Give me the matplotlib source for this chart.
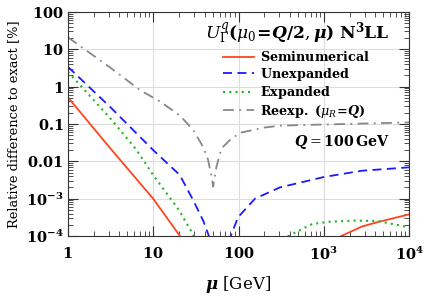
import matplotlib
matplotlib.use('Agg')
import matplotlib.pyplot as plt
from matplotlib.ticker import FixedLocator, LogLocator, NullFormatter

plt.rcParams['mathtext.fontset'] = 'dejavuserif'
plt.rcParams['font.family'] = 'DejaVu Serif'

# ==[0] Data (relative difference in %)
mu_semi = [1, 3.16, 10, 20.6, 30, 100, 1000, 1600, 2800, 4400, 10000]
d_semi = [0.52, 0.022, 1.0e-3, 1.0e-4, 2e-5, 1e-6, 3e-5, 1.0e-4, 1.8e-4, 2.4e-4, 3.8e-4]

mu_unexp = [1, 3.16, 10, 20.5, 29.5, 38.5, 45, 55, 60, 66, 81, 99, 156, 305, 1000, 2800, 10000]
d_unexp = [3.4, 0.28, 0.02, 4.3e-3, 9e-4, 2.6e-4, 1.0e-4, 2e-5, 1e-6, 2e-5, 1.0e-4, 3.2e-4, 1.0e-3,
           2.0e-3, 3.8e-3, 5.6e-3, 6.9e-3]

mu_exp = [1, 3.16, 6.4, 10, 20, 30, 40, 100, 300, 385, 730, 1150, 2300, 4400, 10000]
d_exp = [2.5, 0.14, 0.02, 4.3e-3, 5e-4, 1.0e-4, 3e-5, 1e-6, 3e-5, 1.0e-4, 2.1e-4, 2.4e-4, 2.6e-4,
         2.5e-4, 1.7e-4]

mu_reexp = [1, 3.16, 7.0, 12, 20.5, 29.5, 38.6, 44, 48.4, 50.5, 55, 63, 79, 104, 200, 305, 730, 10000]
d_reexp = [21, 3.2, 0.81, 0.4, 0.17, 0.069, 0.024, 0.011, 3.8e-3, 2.1e-3, 7e-3, 0.022, 0.037, 0.058,
           0.08, 0.09, 0.095, 0.11]

xticks = [1, 10, 100, 1e3, 1e4]
xlabels = [r'$\mathbf{1}$', r'$\mathbf{10}$', r'$\mathbf{100}$', r'$\mathbf{10^3}$', r'$\mathbf{10^4}$']
yticks = [1e-4, 1e-3, 0.01, 0.1, 1, 10, 100]
ylabels = [r'$\mathbf{10^{-4}}$', r'$\mathbf{10^{-3}}$', r'$\mathbf{0.01}$', r'$\mathbf{0.1}$',
           r'$\mathbf{1}$', r'$\mathbf{10}$', r'$\mathbf{100}$']

# ==[1] Figure
fig = plt.figure(figsize=(4.24, 2.98), dpi=100)
ax = fig.add_axes([0.160, 0.208, 0.805, 0.752])

ax.plot(mu_semi, d_semi, color='#ff4520', lw=1.3, ls='-', label=r'$\mathbf{Seminumerical}$')
ax.plot(mu_unexp, d_unexp, color='#1a1aff', lw=1.3, ls=(0, (5, 3)), label=r'$\mathbf{Unexpanded}$')
ax.plot(mu_exp, d_exp, color='#22b522', lw=1.5, ls=(0, (1, 2)), label=r'$\mathbf{Expanded}$')
ax.plot(mu_reexp, d_reexp, color='#888888', lw=1.3, ls=(0, (6, 3, 1, 3)),
        label=r'$\mathbf{Reexp.\ (}\boldsymbol{\mu_R\!=\!Q}\mathbf{)}$')

ax.set_xscale('log')
ax.set_yscale('log')
ax.set_xlim(1, 1e4)
ax.set_ylim(1e-4, 100)

ax.xaxis.set_major_locator(FixedLocator(xticks))
ax.set_xticklabels(xlabels, fontsize=10.5)
ax.yaxis.set_major_locator(FixedLocator(yticks))
ax.set_yticklabels(ylabels, fontsize=10.5)
ax.xaxis.set_minor_locator(LogLocator(base=10, subs=range(2, 10), numticks=20))
ax.yaxis.set_minor_locator(LogLocator(base=10, subs=range(2, 10), numticks=20))
ax.xaxis.set_minor_formatter(NullFormatter())
ax.yaxis.set_minor_formatter(NullFormatter())
ax.tick_params(which='both', direction='in', top=True, right=True, color='#333333')
ax.tick_params(which='major', length=7, width=0.8)
ax.tick_params(axis='x', which='major', pad=7)
ax.tick_params(axis='y', which='major', pad=3)
ax.tick_params(which='minor', length=3.5, width=0.6)
ax.grid(True, which='major', color='#dddddd', lw=0.8)
ax.set_axisbelow(True)
for s in ax.spines.values():
    s.set_color('#333333')
    s.set_linewidth(0.8)

ax.set_xlabel(r'$\boldsymbol{\mu}\ [\mathrm{GeV}]$', fontsize=12, labelpad=8)
ax.set_ylabel('Relative difference to exact [%]', fontsize=9.4, labelpad=4)

ax.text(0.944, 0.905, r'$\boldsymbol{U_\Gamma^q(\mu_0\!=\!Q/2,\mu)}\ \mathbf{N^3LL}$',
        transform=ax.transAxes, ha='right', va='center', fontsize=12.3)
ax.text(0.944, 0.42, r'$\boldsymbol{Q} = \mathbf{100\,GeV}$', transform=ax.transAxes,
        ha='right', va='center', fontsize=10.3)

ax.legend(loc='upper left', bbox_to_anchor=(0.455, 0.83), frameon=False, fontsize=9.2,
          handlelength=2.4, handletextpad=0.45, labelspacing=0.12, borderpad=0, borderaxespad=0)

fig.savefig('out.png', dpi=100)
